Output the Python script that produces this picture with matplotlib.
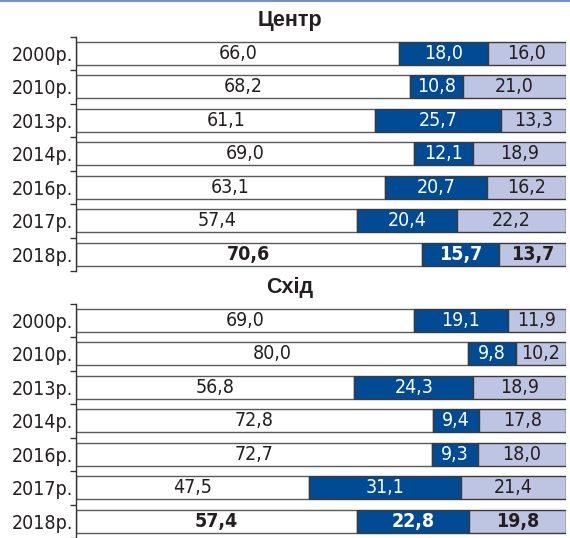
import matplotlib
matplotlib.use("Agg")
import matplotlib.pyplot as plt
import numpy as np

years = ["2000р.", "2010р.", "2013р.", "2014р.", "2016р.", "2017р.", "2018р."]

centr_a = [66.0, 68.2, 61.1, 69.0, 63.1, 57.4, 70.6]
centr_b = [18.0, 10.8, 25.7, 12.1, 20.7, 20.4, 15.7]
centr_c = [16.0, 21.0, 13.3, 18.9, 16.2, 22.2, 13.7]

skhid_a = [69.0, 80.0, 56.8, 72.8, 72.7, 47.5, 57.4]
skhid_b = [19.1, 9.8, 24.3, 9.4, 9.3, 31.1, 22.8]
skhid_c = [11.9, 10.2, 18.9, 17.8, 18.0, 21.4, 19.8]

plt.rcParams["font.family"] = ["DejaVu Sans"]
plt.rcParams["font.stretch"] = "condensed"

W, H = 570, 538
fig = plt.figure(figsize=(W / 100, H / 100), dpi=100)

# thin blue rule across the very top
fig.add_artist(plt.Line2D([0, 1], [1 - 0.8 / H, 1 - 0.8 / H], color="#6f8ec8", lw=1.4))

DARK = "#004b93"
LIGHT = "#bec5e2"
EDGE = "#3a3a3a"
TXT = "#231f20"
FS = 14


def fmt(v):
    return f"{v:.1f}".replace(".", ",")


def panel(top_px, title, a, b, c):
    ax = fig.add_axes([76 / W, 1 - (top_px + 234.5) / H, 490 / W, 234.5 / H])
    n = len(years)
    y = np.arange(n)
    h = 0.687
    ax.barh(y, a, height=h, color="white", edgecolor="#5a5a5a", lw=1.0)
    ax.barh(y, b, left=a, height=h, color=DARK, edgecolor=EDGE, lw=1.0)
    ax.barh(y, c, left=np.add(a, b), height=h, color=LIGHT, edgecolor=EDGE, lw=1.0)
    for i in range(n):
        fw = "bold" if i == n - 1 else "normal"
        ax.text(a[i] / 2, i, fmt(a[i]), ha="center", va="center",
                fontsize=FS, color=TXT, fontweight=fw)
        ax.text(a[i] + b[i] / 2, i, fmt(b[i]), ha="center", va="center",
                fontsize=FS, color="white", fontweight=fw)
        ax.text(a[i] + b[i] + c[i] / 2, i, fmt(c[i]), ha="center",
                va="center", fontsize=FS, color=TXT, fontweight=fw)
    ax.set_xlim(0, 100)
    ax.set_ylim(n - 0.5, -0.5)
    for s in ["top", "right", "bottom"]:
        ax.spines[s].set_visible(False)
    ax.spines["left"].set_color("#333333")
    ax.spines["left"].set_linewidth(1.0)
    ax.set_xticks([])
    ax.set_yticks(np.arange(n + 1) - 0.5)
    ax.set_yticklabels([])
    ax.tick_params(axis="y", which="major", length=4, width=1.0, color="#333333")
    ax.set_yticks(y, minor=True)
    ax.set_yticklabels(years, minor=True, fontsize=FS, color=TXT)
    ax.tick_params(axis="y", which="minor", length=0, pad=2)
    fig.text(290 / W, 1 - (top_px - 16) / H, title, ha="center", va="center",
             fontsize=15.5, fontweight="bold", color=TXT,
             family=["Liberation Sans", "DejaVu Sans"], fontstretch="normal")
    return ax


panel(36.5, "Центр", centr_a, centr_b, centr_c)
panel(303.5, "Схід", skhid_a, skhid_b, skhid_c)

fig.savefig("out.png", dpi=100)
